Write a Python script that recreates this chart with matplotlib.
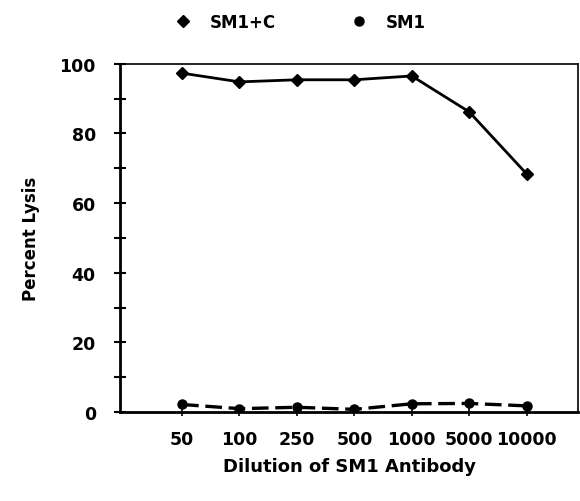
import numpy as np
import matplotlib.pyplot as plt
from matplotlib.ticker import MultipleLocator

# ── Data ──────────────────────────────────────────────────────────────────────
dilutions = ["50", "100", "250", "500", "1000", "5000", "10000"]
sm1_c = [97.3, 94.8, 95.4, 95.4, 96.5, 86.2, 68.4]   # SM1 + complement
sm1   = [2.2, 1.0, 1.4, 0.8, 2.4, 2.5, 1.8]          # SM1 alone

x = np.arange(1, len(dilutions) + 1)

plt.rcParams["font.family"] = ["DejaVu Sans"]
plt.rcParams["font.weight"] = "bold"

fig = plt.figure(figsize=(5.8, 5.02), dpi=100)
ax = fig.add_axes([0.207, 0.177, 0.790, 0.694])

ax.plot(x, sm1_c, color="black", lw=2.0, marker="D", ms=6.5, label="SM1+C")
ax.plot(x, sm1, color="black", lw=2.4, ls=(0, (5, 2)), marker="o", ms=6.5, label="SM1")

ax.set_xlim(-0.08, 7.9)
ax.set_ylim(0, 100)
ax.set_xticks(x)
ax.set_xticklabels(dilutions)
ax.yaxis.set_major_locator(MultipleLocator(20))
ax.yaxis.set_minor_locator(MultipleLocator(10))

ax.tick_params(axis="y", which="both", direction="inout", length=9, width=1.5, pad=13, labelsize=12.5)
ax.tick_params(axis="x", direction="inout", length=6, width=1.2, pad=10, labelsize=12.5)
for lab in ax.get_xticklabels() + ax.get_yticklabels():
    lab.set_fontweight("bold")

for side in ["left", "bottom"]:
    ax.spines[side].set_linewidth(2.0)
for side in ["top", "right"]:
    ax.spines[side].set_linewidth(1.2)

ax.set_ylabel("Percent Lysis", fontsize=12, fontweight="bold", labelpad=14)
ax.set_xlabel("Dilution of SM1 Antibody", fontsize=13, fontweight="bold", labelpad=6)

ax.legend(loc="center", bbox_to_anchor=(0.396, 1.12), ncol=2, frameon=False,
          handlelength=0.6, columnspacing=4.7, handletextpad=1.3,
          prop={"weight": "bold", "size": 12})
for line in ax.get_legend().get_lines():
    line.set_linestyle("none")

fig.savefig("out.png", dpi=100)
